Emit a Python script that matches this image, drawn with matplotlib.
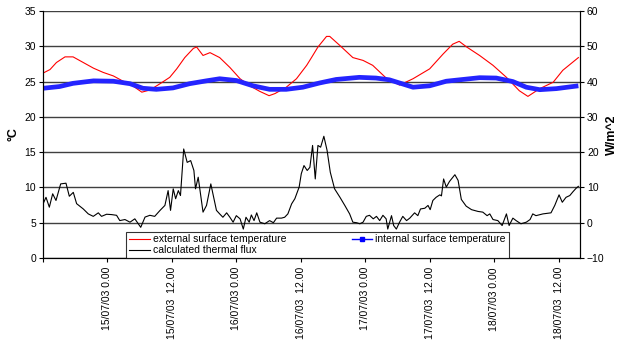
import matplotlib
matplotlib.use("Agg")
import matplotlib.pyplot as plt
from matplotlib.lines import Line2D

plt.rcParams['font.family'] = ['Liberation Sans', 'DejaVu Sans']

# hours since 14/07/03 12.00
ext_hours = [0, 1.3, 2.5, 4.1, 5.6, 7.5, 9.4, 11.2, 13.1, 14.8, 16.7, 18.4, 19.9, 21.8, 23.6,
             24.9, 26.4, 28, 28.6, 29.8, 31.1, 32.9, 34.8, 36.7, 38.5, 40.4, 42.1, 43.2, 45.3,
             47.2, 49.1, 50, 51.2, 52.8, 53.4, 55.3, 57.7, 59.6, 61.4, 63.9, 66.4, 68.9, 72,
             74.5, 76.3, 77.5, 78.9, 81.3, 83.8, 86.3, 88.7, 90.3, 92.5, 95, 96.8, 99.7]
ext_temp = [26.2, 26.7, 27.7, 28.5, 28.5, 27.7, 26.9, 26.3, 25.8, 25.1, 24.4, 23.5, 23.8, 24.7, 25.6,
            26.8, 28.4, 29.7, 29.9, 28.7, 29.1, 28.4, 27.0, 25.4, 24.4, 23.6, 23.0, 23.3, 24.2,
            25.4, 27.3, 28.4, 29.9, 31.4, 31.4, 30.1, 28.4, 28.0, 27.3, 25.5, 24.5, 25.4, 26.8,
            28.9, 30.3, 30.7, 29.9, 28.7, 27.3, 25.6, 23.7, 22.9, 24.0, 24.9, 26.6, 28.4]

int_hours = [0, 3.1, 5.6, 9.4, 13.1, 16.2, 18.6, 21.1, 24.2, 27.3, 30.4, 32.9, 36, 39.1, 42.2,
             45.3, 48.4, 51.5, 54.6, 58.9, 62, 64.5, 66.4, 68.9, 72, 75.1, 78.2, 81.3, 84.4,
             87.5, 90, 92.5, 95.6, 99.7]
int_temp = [24.05, 24.3, 24.75, 25.1, 25.05, 24.7, 24.05, 23.9, 24.1, 24.7, 25.1, 25.4, 25.15, 24.4, 23.9,
            23.9, 24.2, 24.8, 25.3, 25.6, 25.5, 25.25, 24.8, 24.2, 24.4, 25.05, 25.3, 25.55, 25.5,
            25.0, 24.2, 23.85, 24.0, 24.4]

flux_hours = [0, 0.56, 1.18, 1.8, 2.42, 3.29, 4.28, 4.9, 5.64, 6.26, 7.5, 8.43, 9.36, 10.3, 10.9,
              11.84, 12.78, 13.7, 14.3, 15.26, 16.2, 17.1, 18.2, 19.0, 19.9, 20.8, 21.8, 22.7,
              23.3, 23.75, 24.25, 24.7, 25.2, 25.6, 26.2, 26.85, 27.5, 28.1, 28.4, 28.9, 29.8,
              30.45, 31.25, 32.3, 32.9, 33.5, 34.2, 34.8, 35.4, 36, 36.7, 37.3, 37.8, 38.4, 38.8,
              39.3, 39.8, 40.4, 41.3, 42.2, 42.9, 43.5, 44.4, 45, 45.6, 46.3, 46.9, 47.7, 48.1,
              48.6, 49.2, 49.7, 50.2, 50.7, 51.2, 51.7, 52.3, 52.9, 53.5, 54.3, 55.3, 56.2, 57.1,
              57.7, 58.4, 59, 59.6, 60.2, 60.8, 61.5, 62.1, 62.7, 63.3, 63.9, 64.2, 64.9, 65.3,
              65.8, 66.4, 67.0, 67.7, 68.3, 69.2, 69.8, 70.3, 71.1, 71.7, 72.1, 72.6, 73.2, 73.9,
              74.2, 74.6, 75.1, 75.7, 76.7, 77.3, 77.9, 78.8, 79.8, 81, 81.9, 82.7, 83.2, 83.8,
              84.7, 85.5, 86.3, 86.8, 87.5, 88.1, 89, 90, 90.7, 91.2, 91.8, 93.1, 94.6, 95.3,
              96.1, 96.7, 97.4, 98.1, 98.7, 99.3, 99.7]
flux = [5.3, 7.2, 4.4, 8.2, 6.3, 11.0, 11.2, 7.5, 8.6, 5.4, 3.9, 2.5, 1.8, 2.8, 1.8,
        2.4, 2.3, 2.1, 0.6, 0.9, 0.15, 1.1, -1.3, 1.6, 2.1, 1.8, 3.5, 4.9,
        9.1, 3.5, 9.6, 6.8, 9.1, 7.7, 20.9, 17.1, 17.6, 14.8, 9.6, 12.9, 3.0,
        4.9, 11.0, 3.5, 2.5, 1.55, 2.8, 1.55, 0.15, 2.0, 1.1, -1.8, 1.55, 0.15, 2.2,
        0.6, 2.8, 0.15, -0.3, 0.6, 0.0, 1.3, 1.3, 1.55, 2.5, 5.35, 6.8, 10.1, 13.9,
        16.2, 14.8, 15.7, 21.9, 12.4, 21.9, 21.4, 24.5, 20.5, 14.3, 9.6, 7.2, 4.9, 2.5,
        0.15, 0.0, -0.3, 0.15, 1.8, 2.1, 1.1, 1.8, 0.6, 2.1, 1.1, -1.8, 2.0, -0.8,
        -1.8, 0.15, 1.8, 0.6, 1.3, 2.8, 2.0, 3.9, 4.1, 4.9, 3.7, 6.3, 7.2, 7.9,
        7.6, 12.4, 10.1, 11.7, 13.6, 12.0, 6.6, 4.7, 3.7, 3.2, 3.0, 2.0, 2.5, 0.9,
        0.6, -0.8, 2.5, -0.8, 1.3, 0.6, -0.3, 0.15, 0.9, 2.5, 2.0, 2.5, 2.8, 4.9,
        7.9, 5.8, 7.2, 7.7, 8.8, 9.8, 10.3]

tick_hours = [0, 12, 24, 36, 48, 60, 72, 84, 96]
tick_labels = ['', '15/07/03 0.00', '15/07/03  12.00', '16/07/03 0.00', '16/07/03  12.00',
               '17/07/03 0.00', '17/07/03  12.00', '18/07/03 0.00', '18/07/03  12.00']

fig = plt.figure(figsize=(6.18, 3.40), dpi=100)
ax = fig.add_axes([43/618, 1-258/340, (580-43)/618, (258-11)/340])
ax2 = ax.twinx()

fs = 7.5
ax.set_ylim(0, 35)
ax.set_yticks(range(0, 36, 5))
ax2.set_ylim(-10, 60)
ax2.set_yticks(range(-10, 61, 10))
ax.set_xlim(0, 100)
ax.set_xticks(tick_hours)
ax.set_xticklabels(tick_labels, rotation=90, fontsize=fs)
ax.tick_params(axis='y', labelsize=fs, direction='out', length=3, width=0.8, pad=2)
ax2.tick_params(axis='y', labelsize=fs, direction='out', length=3, width=0.8, pad=2)
ax.tick_params(axis='x', direction='out', length=3, width=0.8)

ax.yaxis.grid(True, color='#404040', linewidth=1.0)
ax.set_axisbelow(True)
for sp in ['top']:
    ax.spines[sp].set_visible(False)
    ax2.spines[sp].set_visible(False)
for a in (ax, ax2):
    for sp in ['left', 'right', 'bottom']:
        a.spines[sp].set_linewidth(0.8)

l_ext, = ax.plot(ext_hours, ext_temp, color='#ff0000', lw=0.8)
ax.plot(int_hours, int_temp, color='#2424ff', lw=3.4, solid_capstyle='butt')
l_flux, = ax2.plot(flux_hours, flux, color='black', lw=0.8)

ax.set_ylabel('°C', fontsize=9, fontweight='bold')
ax.yaxis.set_label_coords(-0.043, 0.5)
ax2.set_ylabel('W/m^2', fontsize=9, fontweight='bold')
ax2.yaxis.set_label_coords(1.048, 0.5)

l_int = Line2D([], [], color='#0000ff', lw=1.0, marker='s', markersize=2.5)
leg = ax2.legend([l_ext, l_flux, l_int],
                 ['external surface temperature', 'calculated thermal flux',
                  'internal surface temperature'],
                 ncol=2, loc='lower left', bbox_to_anchor=(0.155, 0.0, 0.712, 0.11),
                 mode='expand', fontsize=fs, frameon=True, fancybox=False,
                 borderpad=0.25, labelspacing=0.1, handlelength=2.0, handletextpad=0.3,
                 columnspacing=1.0, borderaxespad=0.0)
leg.get_frame().set_edgecolor('black')
leg.get_frame().set_linewidth(0.8)

fig.savefig('out.png', dpi=100)
